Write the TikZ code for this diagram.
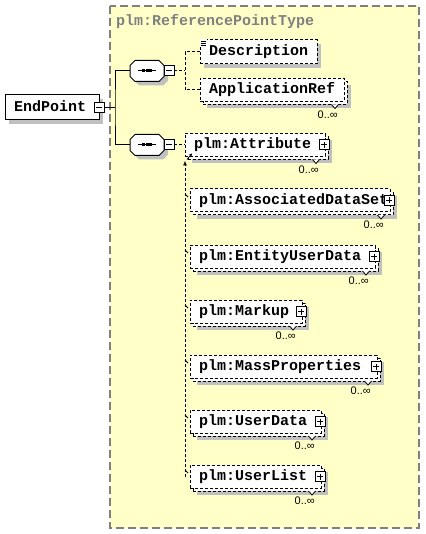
\documentclass[tikz,border=0pt]{standalone}
\usepackage{fontspec}
\usetikzlibrary{shadows,arrows.meta}
\newfontfamily\xsdfont{Liberation Mono}
\newfontfamily\occfont{Liberation Sans}
\definecolor{typeyellow}{HTML}{FFFFC8}
\definecolor{shadowgray}{HTML}{C0C0C0}
\definecolor{titlegray}{HTML}{808080}
% octagon of a compositor node
\newcommand\octpath[1]{([xshift=5pt]#1.north west) -- ([xshift=-5pt]#1.north east) -- ([yshift=-5pt]#1.north east)
  -- ([yshift=5pt]#1.south east) -- ([xshift=-5pt]#1.south east) -- ([xshift=5pt]#1.south west)
  -- ([yshift=5pt]#1.south west) -- ([yshift=-5pt]#1.north west) -- cycle}
\tikzset{
  elem/.style={draw, fill=white, line width=1pt, dash pattern=on 3pt off 2pt, anchor=west, outer sep=0pt,
    inner xsep=9pt, inner ysep=0pt, minimum height=23pt, text height=10pt, text depth=2pt, align=left,
    font=\xsdfont\bfseries\fontsize{15}{15}\selectfont},
  single/.style={elem, general shadow={fill=shadowgray, shadow xshift=4pt, shadow yshift=-4pt}},
  multi/.style={elem, general shadow={fill=shadowgray, shadow xshift=7pt, shadow yshift=-7pt},
    general shadow={draw=black, fill=white, shadow xshift=3pt, shadow yshift=-3pt}},
  seq/.style={rectangle, minimum width=34pt, minimum height=21pt, inner sep=0pt, outer sep=0pt},
  minusbox/.style={draw, fill=white, solid, line width=1pt, minimum size=10pt, inner sep=0pt, outer sep=0pt,
    path picture={\draw[line width=1pt] ([xshift=2pt]path picture bounding box.west) -- ([xshift=-2pt]path picture bounding box.east);}},
  plusbox/.style={draw, fill=white, solid, line width=1pt, minimum size=10pt, inner sep=0pt, outer sep=0pt,
    path picture={\draw[line width=1pt] ([xshift=2pt]path picture bounding box.west) -- ([xshift=-2pt]path picture bounding box.east)
      ([yshift=-2pt]path picture bounding box.north) -- ([yshift=2pt]path picture bounding box.south);}},
  typebox/.style={fill=typeyellow, draw=titlegray, line width=1.3pt, dash pattern=on 8pt off 4pt},
  typetitle/.style={anchor=base west, inner sep=0pt, text=titlegray, font=\xsdfont\bfseries\fontsize{15}{15}\selectfont},
  tree/.style={line width=1pt},
  branch/.style={line width=1pt, dash pattern=on 3pt off 2pt},
  notch/.style={line width=0.8pt, fill=white},
  occ/.style={anchor=north east, inner sep=0pt, font=\occfont\fontsize{11}{11}\selectfont}
}
\begin{document}
\begin{tikzpicture}[x=1pt, y=-1pt]
  \useasboundingbox (0,0) rectangle (425,534);
  \draw[typebox] (110,6) rectangle (419,528);% complex type area
  \node[typetitle] (typename) at (116,26) {plm:ReferencePointType};
  \node[single, solid, minimum height=25pt, text width=76pt] (endpoint) at (5,107.5) {EndPoint};
  \node[minusbox] (endpoint-m) at (endpoint.east) {};
  \node[seq] (seq1) at (147,71) {};
  \node[seq] (seq2) at (147,145) {};
  \foreach \s in {seq1,seq2}{% sequence symbol
    \fill[shadowgray, transform canvas={shift={(4pt,-4pt)}}] \octpath{\s};
    \draw[fill=white, line width=1pt] \octpath{\s};
    \draw[line width=1pt] ([xshift=-9pt]\s.center) -- ([xshift=9pt]\s.center);
    \foreach \dx in {-3.6,0,3.6}
      \fill ([shift={(\dx-1.5,-1.5)}]\s.center) rectangle +(3,3);
  }
  \node[minusbox, anchor=west] (seq1-m) at (seq1.east) {};
  \node[minusbox, anchor=west] (seq2-m) at (seq2.east) {};
  % first sequence
  \node[single, minimum height=24pt, text width=99pt] (desc) at (200,52) {Description};
  \node[multi, text width=126pt] (appref) at (200,90) {ApplicationRef};
  % second sequence
  \node[multi, text width=122pt] (attr) at (185,145) {plm:Attribute};
  \node[multi, text width=182pt] (ads) at (190,200.5) {plm:AssociatedDataSet};
  \node[multi, text width=167pt] (eud) at (190,256.5) {plm:EntityUserData};
  \node[multi, text width=94pt] (markup) at (190,311.5) {plm:Markup};
  \node[multi, text width=169pt] (mass) at (190,366.5) {plm:MassProperties};
  \node[multi, text width=113pt] (udata) at (190,421.5) {plm:UserData};
  \node[multi, text width=113pt] (ulist) at (190,476.5) {plm:UserList};
  % connectors
  \draw[tree] (endpoint-m.east) -- ++(11,0) coordinate (fork);
  \draw[tree] (seq1.west) -| (fork) |- (seq2.west);
  \draw[branch] (seq1-m.east) -- ++(11,0) coordinate (fork1);
  \draw[branch] (desc.west) -| (fork1) |- (appref.west);
  \draw[branch] (seq2-m.east) -- (attr.west);
  \draw[branch, -{Latex[length=5pt, width=4pt]}] (attr.south west |- ulist.west) -- ([yshift=-4pt]attr.south west);
  \foreach \n in {ads,eud,markup,mass,udata,ulist}
    \draw[line width=0.8pt] ([shift={(-5,5)}]\n.north west) -- ++(3,3);
  \draw[line width=0.8pt, -{Stealth[length=3pt, width=3pt]}] ([shift={(2,3)}]attr.south west) -- +(5,-6);
  % documentation icon
  \fill[white] ([shift={(0,-1)}]desc.north west) rectangle +(7,7);
  \foreach \dy in {1,3,5}
    \draw[line width=0.8pt] ([shift={(1,\dy)}]desc.north west) -- +(5,0);
  % occurrences and expand boxes
  \foreach \n in {appref,attr,ads,eud,markup,mass,udata,ulist}{
    \draw[notch] ([shift={(-9,3)}]\n.south east) +(-3.5,0) -- +(0,4) -- +(3.5,0);
    \node[occ] (\n-occ) at ([shift={(-6,9)}]\n.south east) {0..∞};
  }
  \foreach \n in {attr,ads,eud,markup,mass,udata,ulist}
    \node[plusbox] (\n-p) at ([xshift=-1pt]\n.east) {};
\end{tikzpicture}
\end{document}
